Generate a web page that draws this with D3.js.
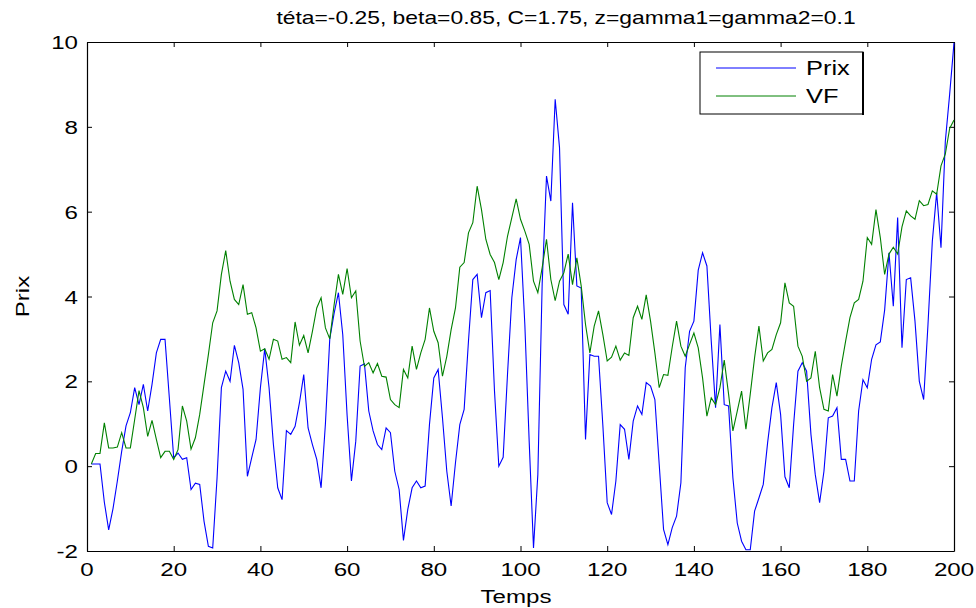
<!DOCTYPE html>
<html>
<head>
<meta charset="utf-8">
<script src="https://cdn.jsdelivr.net/npm/d3@7"></script>
<style>
  html, body { margin: 0; padding: 0; background: #fff; }
  svg { display: block; }
  text { font-family: "Liberation Sans", Arial, Helvetica, sans-serif; fill: #000; }
</style>
</head>
<body>
<svg id="chart" width="976" height="608"></svg>
<script>
// Simulated price and fundamental value, t = 1..200
const prix = [
  0.05, 0.05, 0.05, -0.85, -1.5, -1.0, -0.35, 0.35, 0.95, 1.26,
  1.85, 1.45, 1.93, 1.3, 1.93, 2.67, 2.99, 2.99, 1.6, 0.2,
  0.31, 0.16, 0.2, -0.55, -0.4, -0.43, -1.3, -1.89, -1.93, -0.28,
  1.85, 2.24, 2.0, 2.85, 2.44, 1.81, -0.24, 0.2, 0.63, 1.85,
  2.77, 1.85, 0.51, -0.51, -0.79, 0.84, 0.75, 0.94, 1.49, 2.16,
  0.9, 0.51, 0.16, -0.51, 1.0, 3.0, 3.6, 4.09, 3.1, 1.2,
  -0.35, 0.59, 2.36, 2.41, 1.3, 0.83, 0.51, 0.39, 0.9, 0.79,
  -0.12, -0.55, -1.75, -1.02, -0.51, -0.35, -0.51, -0.47, 0.98, 2.08,
  2.28, 1.14, -0.12, -0.94, 0.08, 0.98, 1.34, 2.95, 4.4, 4.52,
  3.5, 4.09, 4.14, 1.77, 0.0, 0.21, 2.16, 3.97, 4.87, 5.39,
  3.34, 0.59, -1.93, -0.2, 4.3, 6.84, 6.25, 8.65, 7.51, 3.81,
  3.58, 6.21, 4.25, 4.2, 0.63, 2.63, 2.59, 2.59, 0.96, -0.86,
  -1.14, -0.35, 0.98, 0.87, 0.16, 1.06, 1.42, 1.22, 1.97, 1.89,
  1.57, 0.04, -1.49, -1.85, -1.45, -1.18, -0.39, 2.32, 3.18, 3.42,
  4.62, 5.03, 4.72, 2.95, 1.38, 3.34, 1.45, 1.42, -0.28, -1.34,
  -1.77, -1.97, -1.97, -1.06, -0.75, -0.43, 0.55, 1.38, 1.97, 1.22,
  -0.25, -0.51, 0.98, 2.24, 2.44, 2.24, 0.75, -0.2, -0.86, -0.12,
  1.14, 1.18, 1.38, 0.16, 0.16, -0.35, -0.35, 1.3, 2.04, 1.85,
  2.52, 2.86, 2.93, 3.68, 5.03, 3.77, 5.86, 2.79, 4.4, 4.44,
  3.42, 2.0, 1.57, 3.34, 5.3, 6.45, 5.15, 7.66, 8.77, 9.98
];

const vf = [
  0.05, 0.3, 0.3, 1.02, 0.43, 0.43, 0.45, 0.79, 0.43, 0.43,
  1.1, 1.78, 1.38, 0.7, 1.08, 0.63, 0.2, 0.35, 0.35, 0.16,
  0.39, 1.42, 1.06, 0.4, 0.67, 1.22, 1.93, 2.63, 3.38, 3.66,
  4.52, 5.08, 4.36, 3.93, 3.81, 4.28, 3.58, 3.62, 3.26, 2.71,
  2.77, 2.52, 2.99, 2.95, 2.52, 2.56, 2.44, 3.4, 2.85, 3.08,
  2.67, 3.18, 3.73, 3.97, 3.26, 3.0, 3.8, 4.52, 4.05, 4.66,
  3.97, 4.13, 2.95, 2.35, 2.44, 2.2, 2.42, 2.12, 2.1, 1.57,
  1.45, 1.38, 2.28, 2.08, 2.83, 2.28, 2.67, 2.99, 3.73, 3.18,
  2.91, 2.12, 2.59, 3.22, 3.73, 4.69, 4.8, 5.5, 5.74, 6.6,
  6.05, 5.35, 4.99, 4.8, 4.4, 4.8, 5.42, 5.86, 6.3, 5.82,
  5.54, 5.23, 4.36, 4.09, 4.68, 5.35, 4.4, 3.9, 4.36, 4.56,
  5.0, 4.28, 4.91, 4.25, 3.34, 2.67, 3.3, 3.66, 3.1, 2.48,
  2.57, 2.83, 2.5, 2.67, 2.61, 3.5, 3.77, 3.46, 4.04, 3.42,
  2.67, 1.85, 2.16, 2.14, 2.81, 3.42, 2.83, 2.59, 2.87, 3.14,
  2.79, 2.08, 1.18, 1.61, 1.45, 1.85, 2.5, 1.7, 0.83, 1.3,
  1.77, 0.87, 1.7, 2.56, 3.3, 2.48, 2.67, 2.75, 3.1, 3.38,
  4.32, 3.85, 3.77, 2.83, 2.59, 2.0, 2.08, 2.71, 1.85, 1.34,
  1.3, 2.16, 1.65, 2.36, 2.95, 3.5, 3.85, 3.93, 4.36, 5.39,
  5.23, 6.05, 5.39, 4.52, 5.0, 5.16, 5.0, 5.64, 6.02, 5.9,
  5.82, 6.26, 6.14, 6.17, 6.49, 6.41, 7.08, 7.36, 7.96, 8.16
];

const xTicks = [0, 20, 40, 60, 80, 100, 120, 140, 160, 180, 200];
const yTicks = [-2, 0, 2, 4, 6, 8, 10];
const seriesNames = ["Prix", "VF"];
const seriesColors = ["#0000ff", "#008000"];
const titleText = "téta=-0.25, beta=0.85, C=1.75, z=gamma1=gamma2=0.1";
const xLabel = "Temps";
const yLabel = "Prix";

const svg = d3.select("#chart");
const box = { left: 87, right: 954, top: 42, bottom: 551 };
const stretch = 1.27; // wide text, as in the exported figure

const x = d3.scaleLinear().domain([0, 200]).range([box.left, box.right]);
const y = d3.scaleLinear().domain([-2, 10]).range([box.bottom, box.top]);

svg.append("rect").attr("width", 976).attr("height", 608).attr("fill", "#fff");

// horizontally stretched text helper
function label(g, str, px, py, size, anchor, rot) {
  return g.append("text")
    .attr("transform", `translate(${px},${py})` + (rot ? ` rotate(${rot})` : "") + ` scale(${stretch},1)`)
    .attr("text-anchor", anchor)
    .style("font-size", size + "px")
    .text(str);
}

// axes with inward ticks on all four sides
const tickLen = 5;
function styleAxis(g) {
  g.selectAll("path.domain").attr("stroke", "#000").attr("stroke-width", 1.2);
  g.selectAll(".tick line").attr("stroke", "#000").attr("stroke-width", 1);
  g.selectAll(".tick text").remove();
}
svg.append("g").attr("transform", `translate(0,${box.bottom})`)
  .call(d3.axisBottom(x).tickValues(xTicks).tickSizeInner(-tickLen).tickSizeOuter(0)).call(styleAxis);
svg.append("g").attr("transform", `translate(0,${box.top})`)
  .call(d3.axisTop(x).tickValues(xTicks).tickSizeInner(-tickLen).tickSizeOuter(0)).call(styleAxis);
svg.append("g").attr("transform", `translate(${box.left},0)`)
  .call(d3.axisLeft(y).tickValues(yTicks).tickSizeInner(-tickLen).tickSizeOuter(0)).call(styleAxis);
svg.append("g").attr("transform", `translate(${box.right},0)`)
  .call(d3.axisRight(y).tickValues(yTicks).tickSizeInner(-tickLen).tickSizeOuter(0)).call(styleAxis);

// tick labels
const labels = svg.append("g");
xTicks.forEach(v => label(labels, String(v), x(v), box.bottom + 25, 19, "middle"));
yTicks.forEach(v => label(labels, String(v), box.left - 9, y(v) + 7, 19, "end"));

// titles
label(svg, titleText, 566, 24, 18, "middle");
label(svg, xLabel, 516, 603, 19, "middle");
label(svg, yLabel, 29, y(4), 19, "middle", -90);

// series
const plot = svg.append("g");
const line = d3.line().x((d, i) => x(i + 1)).y(d => y(d));
[prix, vf].forEach((s, k) => {
  plot.append("path")
    .datum(s)
    .attr("d", line)
    .attr("fill", "none")
    .attr("stroke", seriesColors[k])
    .attr("stroke-width", 1.1)
    .attr("stroke-linejoin", "miter");
});

// legend
const lg = svg.append("g");
const lx = 700, ly = 52, lw = 163, lh = 62;
lg.append("rect").attr("x", lx).attr("y", ly).attr("width", lw).attr("height", lh)
  .attr("fill", "#fff").attr("stroke", "#000").attr("stroke-width", 1);
lg.append("line").attr("x1", lx + lw).attr("x2", lx + lw).attr("y1", ly).attr("y2", ly + lh + 1)
  .attr("stroke", "#000").attr("stroke-width", 2);
seriesNames.forEach((n, k) => {
  const yy = ly + 16 + k * 28;
  lg.append("line").attr("x1", lx + 16).attr("x2", lx + 96).attr("y1", yy).attr("y2", yy)
    .attr("stroke", seriesColors[k]).attr("stroke-width", 1);
  label(lg, n, lx + 106, yy + 7, 20, "start");
});
</script>
</body>
</html>
